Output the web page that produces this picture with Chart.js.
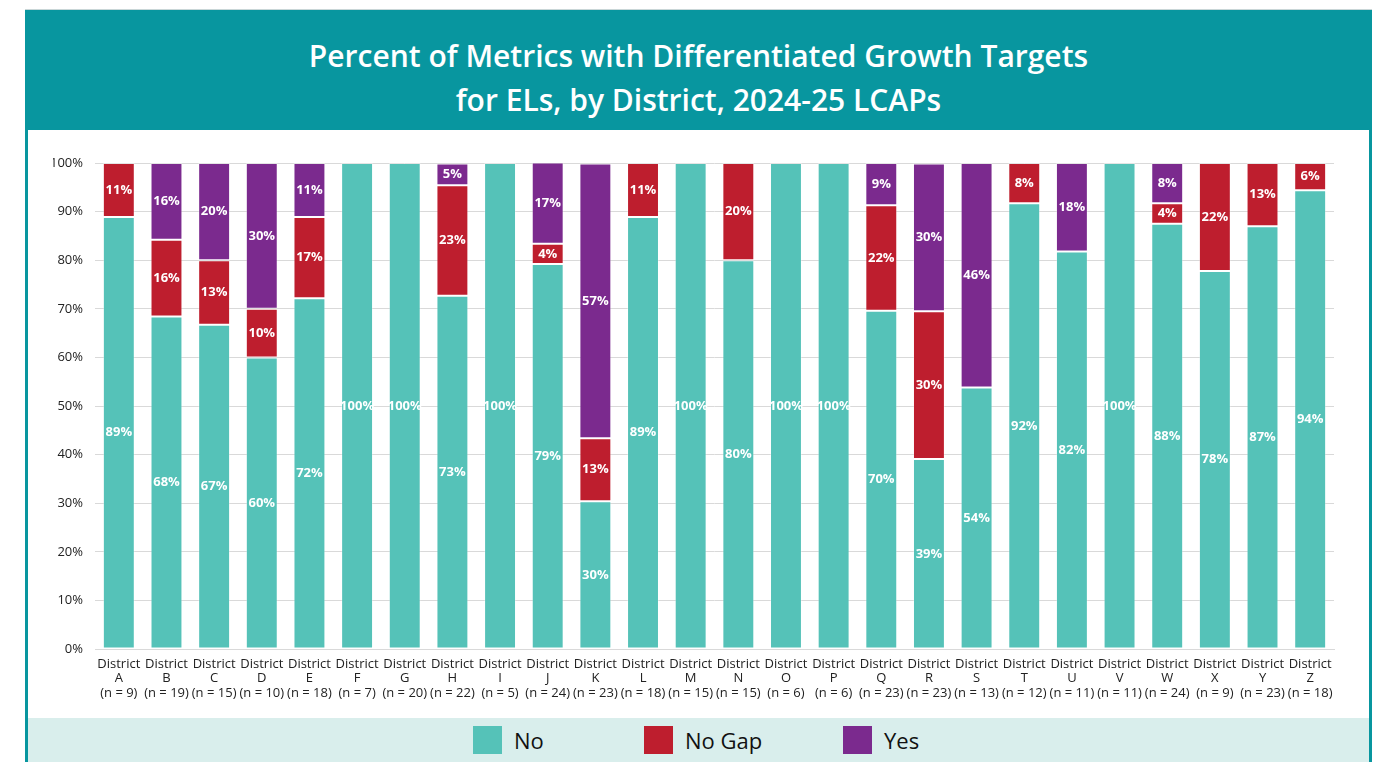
<!DOCTYPE html>
<html>
<head>
<meta charset="utf-8">
<script src="https://cdn.jsdelivr.net/npm/chart.js@4"></script>
<style>
  html, body { margin: 0; padding: 0; background: #fff; }
  body { width: 1382px; height: 762px; overflow: hidden; position: relative; font-family: "Open Sans", sans-serif; }
  .topline { position: absolute; left: 25px; top: 9px; width: 1347px; height: 1px; background: #c9d6d7; }
  .header { position: absolute; left: 25px; top: 10px; width: 1347px; height: 120px; box-sizing: border-box; padding-top: 24px;
            background: #08969f; color: #fff; text-align: center; font-weight: 600; font-size: 30px; line-height: 44px; }
  .side { position: absolute; top: 130px; bottom: 0; width: 3px; background: #08969f; }
  #chartBox { position: absolute; left: 28px; top: 130px; width: 1341px; height: 588px; }
  #legend { position: absolute; left: 28px; top: 718px; width: 1341px; height: 44px; background: #d9eeec; }
  .item { position: absolute; top: 8px; height: 28px; display: flex; align-items: center; font-size: 22px; color: #111; }
  .swatch { width: 29px; height: 28px; margin-right: 12px; }
</style>
</head>
<body>
<div class="topline"></div>
<div class="header">Percent of Metrics with Differentiated Growth Targets<br>for ELs, by District, 2024-25 LCAPs</div>
<div class="side" style="left:25px"></div>
<div class="side" style="left:1369px"></div>
<div id="chartBox"><canvas id="chart"></canvas></div>
<div id="legend"></div>
<script>
const districts = ['A','B','C','D','E','F','G','H','I','J','K','L','M','N','O','P','Q','R','S','T','U','V','W','X','Y','Z'];
const counts = [9, 19, 15, 10, 18, 7, 20, 22, 5, 24, 23, 18, 15, 15, 6, 6, 23, 23, 13, 12, 11, 11, 24, 9, 23, 18];

const noValues    = [88.9, 68.4, 66.7, 60, 72.2, 100, 100, 72.7, 100, 79.2, 30.4, 88.9, 100, 80, 100, 100, 69.6, 39.1, 53.8, 91.7, 81.8, 100, 87.5, 77.8, 87.0, 94.4];
const noGapValues = [11.1, 15.8, 13.3, 10, 16.7, 0, 0, 22.7, 0, 4.2, 13.0, 11.1, 0, 20, 0, 0, 21.7, 30.4, 0, 8.3, 0, 0, 4.2, 22.2, 13.0, 5.6];
const yesValues   = [0, 15.8, 20, 30, 11.1, 0, 0, 4.5, 0, 16.7, 56.5, 0, 0, 0, 0, 0, 8.7, 30.4, 46.2, 0, 18.2, 0, 8.3, 0, 0, 0];

const seriesNames = ['No', 'No Gap', 'Yes'];
const seriesColors = ['#55c2b8', '#be1e2e', '#7b2a8e'];

const labels = districts.map((d, i) => ['District', d, `(n = ${counts[i]})`]);

// white percent labels in the middle of each segment
const barLabels = {
  id: 'barLabels',
  afterDatasetsDraw(chart) {
    const ctx = chart.ctx;
    ctx.save();
    ctx.font = '700 13px "Open Sans"';
    ctx.fillStyle = '#fff';
    ctx.textAlign = 'center';
    ctx.textBaseline = 'middle';
    chart.data.datasets.forEach((ds, i) => {
      chart.getDatasetMeta(i).data.forEach((bar, j) => {
        const v = ds.data[j];
        if (!v) return;
        const p = bar.getProps(['x', 'y', 'base'], true);
        ctx.fillText(Math.round(v) + '%', p.x, (p.y + p.base) / 2);
      });
    });
    ctx.restore();
  }
};

const ctx = document.getElementById('chart').getContext('2d');
const chart = new Chart(ctx, {
  type: 'bar',
  data: {
    labels: labels,
    datasets: [noValues, noGapValues, yesValues].map((vals, i) => ({
      label: seriesNames[i],
      data: vals,
      backgroundColor: seriesColors[i],
      borderColor: 'rgba(255,255,255,0.3)',
      borderWidth: 1,
      borderSkipped: false,
      barPercentage: 0.67,
      categoryPercentage: 1
    }))
  },
  options: {
    responsive: true,
    maintainAspectRatio: false,
    animation: false,
    layout: { padding: { top: 33, left: 25, right: 35, bottom: 10 } },
    plugins: {
      legend: { display: false },
      tooltip: { enabled: false }
    },
    scales: {
      x: {
        stacked: true,
        grid: { display: false, drawTicks: false },
        border: { display: true, color: '#d9d9d9' },
        ticks: {
          color: '#222',
          font: { family: 'Open Sans', size: 13, lineHeight: 1.1 },
          padding: 8,
          maxRotation: 0,
          minRotation: 0,
          autoSkip: false
        }
      },
      y: {
        stacked: true,
        min: 0,
        max: 100,
        grid: { color: '#d9d9d9', drawTicks: false },
        border: { display: false },
        ticks: {
          stepSize: 10,
          color: '#222',
          font: { family: 'Open Sans', size: 13 },
          padding: 12,
          callback: v => v + '%'
        },
        afterFit(scale) { scale.width = 42; }
      }
    }
  },
  plugins: [barLabels]
});

// legend built from the chart's datasets
const legendEl = document.getElementById('legend');
const itemLeft = [445, 616, 815];
chart.data.datasets.forEach((ds, i) => {
  const item = document.createElement('div');
  item.className = 'item';
  item.style.left = itemLeft[i] + 'px';
  item.innerHTML = `<span class="swatch" style="background:${ds.backgroundColor}"></span>${ds.label}`;
  legendEl.appendChild(item);
});
</script>
</body>
</html>
